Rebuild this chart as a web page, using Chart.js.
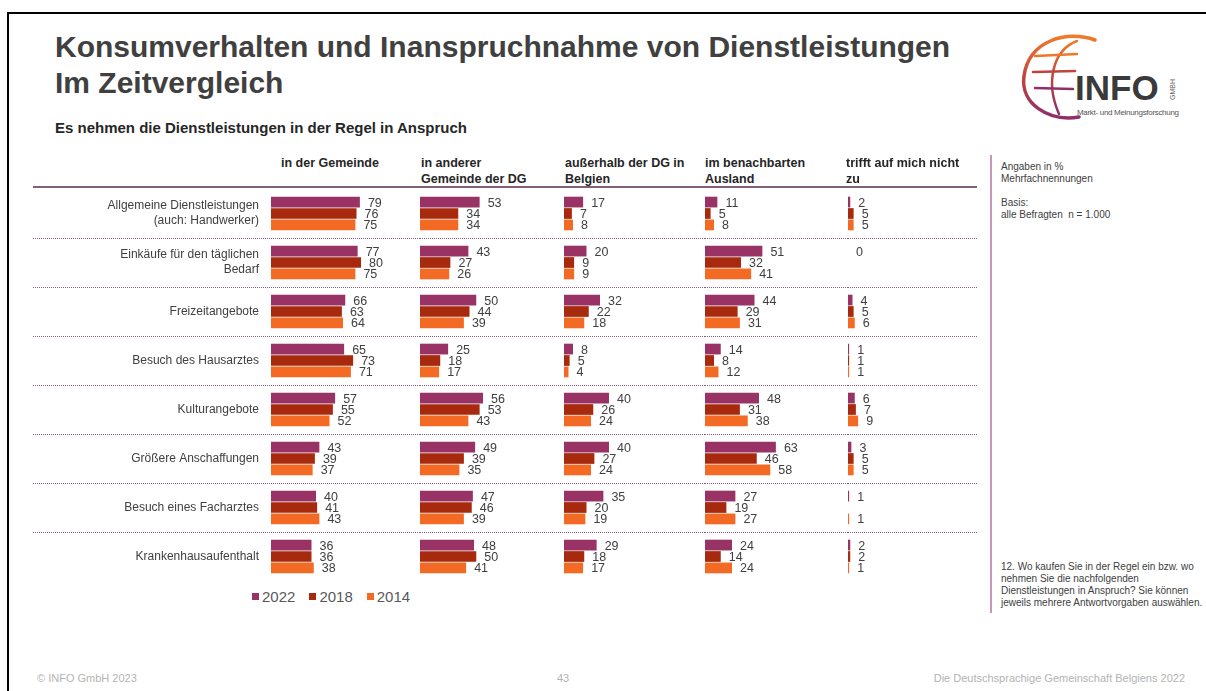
<!DOCTYPE html>
<html>
<head>
<meta charset="utf-8">
<script src="https://cdn.jsdelivr.net/npm/chart.js@4.4.1/dist/chart.umd.min.js"></script>
<style>
  body { margin: 0; background: #fff; font-family: "Liberation Sans", Arial, sans-serif; color: #404040; }
  #slide { position: relative; width: 1206px; height: 691px; overflow: hidden; background: #fff; }
  .frame { position: absolute; left: 7px; top: 12px; width: 1400px; height: 900px; border-top: 2px solid #000; border-left: 2px solid #000; }
  .abs { position: absolute; white-space: nowrap; }
  .title { left: 55px; top: 29px; font-size: 30px; line-height: 36px; font-weight: bold; color: #404040; }
  .subtitle { left: 55px; top: 120px; font-size: 15px; line-height: 16px; font-weight: bold; color: #262626; }
  .colhead { top: 155px; font-size: 12.5px; line-height: 16px; font-weight: bold; color: #262626; }
  .note { left: 1001px; font-size: 10px; line-height: 12px; color: #404040; }
  .vline { position: absolute; left: 990px; top: 155px; width: 2px; height: 458px; background: #c996b6; }
  .footer { top: 670px; font-size: 11px; line-height: 16px; color: #b3b3b3; }
  #legend { position: absolute; left: 252px; top: 588px; display: flex; align-items: center; font-size: 15px; color: #595959; }
  #legend span.sw { display: inline-block; width: 7px; height: 7px; margin-right: 3px; }
  #legend span.item { display: flex; align-items: center; margin-right: 14px; }
  canvas { position: absolute; }
</style>
</head>
<body>
<div id="slide">
  <div class="frame"></div>
  <div class="abs title">Konsumverhalten und Inanspruchnahme von Dienstleistungen<br>Im Zeitvergleich</div>
  <div class="abs subtitle">Es nehmen die Dienstleistungen in der Regel in Anspruch</div>

  <svg class="abs" style="left:1015px;top:32px" width="180" height="92" viewBox="0 0 180 92">
    <defs>
      <linearGradient id="globe" x1="0" y1="0" x2="0" y2="1">
        <stop offset="0" stop-color="#f07a2a"/>
        <stop offset="0.5" stop-color="#c0443e"/>
        <stop offset="1" stop-color="#8e2f6a"/>
      </linearGradient>
    </defs>
    <path d="M80 8 C52 -2 14 8 9 44 C5 72 34 90 64 85" fill="none" stroke="url(#globe)" stroke-width="3.5" stroke-linecap="round"/>
    <path d="M62 9 C38 18 30 50 44 82" fill="none" stroke="url(#globe)" stroke-width="2.5" stroke-linecap="round"/>
    <path d="M20 24 L62 22 M18 40 L60 39 M20 56 L58 57" fill="none" stroke="url(#globe)" stroke-width="2.5" stroke-linecap="round"/>
    <text x="60" y="68" font-family="Liberation Sans, Arial, sans-serif" font-weight="bold" font-size="35" fill="#3a3a3a">INFO</text>
    <text transform="translate(160,68) rotate(-90)" font-family="Liberation Sans, Arial, sans-serif" font-size="7" fill="#666">GMBH</text>
    <text x="62" y="83" font-family="Liberation Sans Narrow, Liberation Sans, Arial, sans-serif" font-size="8" fill="#555" textLength="102">Markt- und Meinungsforschung</text>
  </svg>

  <div class="vline"></div>
  <div class="abs note" style="top:161px">Angaben in %<br>Mehrfachnennungen<br><br>Basis:<br>alle Befragten&nbsp; n = 1.000</div>
  <div class="abs note" style="top:561px">12. Wo kaufen Sie in der Regel ein bzw. wo<br>nehmen Sie die nachfolgenden<br>Dienstleistungen in Anspruch? Sie können<br>jeweils mehrere Antwortvorgaben auswählen.</div>

  <div id="legend"></div>

  <div class="abs footer" style="left:37px">© INFO GmbH 2023</div>
  <div class="abs footer" style="left:557px">43</div>
  <div class="abs footer" style="right:21px">Die Deutschsprachige Gemeinschaft Belgiens 2022</div>
</div>

<script>
// categories and series
const categories = [
  ['Allgemeine Dienstleistungen', '(auch: Handwerker)'],
  ['Einkäufe für den täglichen', 'Bedarf'],
  'Freizeitangebote',
  'Besuch des Hausarztes',
  'Kulturangebote',
  'Größere Anschaffungen',
  'Besuch eines Facharztes',
  'Krankenhausaufenthalt'
];
const years = ['2022', '2018', '2014'];
const yearColors = ['#993366', '#a82a0e', '#f26a24'];
const columnTitles = [
  ['in der Gemeinde'],
  ['in anderer', 'Gemeinde der DG'],
  ['außerhalb der DG in', 'Belgien'],
  ['im benachbarten', 'Ausland'],
  ['trifft auf mich nicht', 'zu']
];

const gemeinde2022 = [79, 77, 66, 65, 57, 43, 40, 36];
const gemeinde2018 = [76, 80, 63, 73, 55, 39, 41, 36];
const gemeinde2014 = [75, 75, 64, 71, 52, 37, 43, 38];

const andereDG2022 = [53, 43, 50, 25, 56, 49, 47, 48];
const andereDG2018 = [34, 27, 44, 18, 53, 39, 46, 50];
const andereDG2014 = [34, 26, 39, 17, 43, 35, 39, 41];

const belgien2022 = [17, 20, 32, 8, 40, 40, 35, 29];
const belgien2018 = [7, 9, 22, 5, 26, 27, 20, 18];
const belgien2014 = [8, 9, 18, 4, 24, 24, 19, 17];

const ausland2022 = [11, 51, 44, 14, 48, 63, 27, 24];
const ausland2018 = [5, 32, 29, 8, 31, 46, 19, 14];
const ausland2014 = [8, 41, 31, 12, 38, 58, 27, 24];

const trifftNicht2022 = [2, 0, 4, 1, 6, 3, 1, 2];
const trifftNicht2018 = [5, null, 5, 1, 7, 5, null, 2];
const trifftNicht2014 = [5, null, 6, 1, 9, 5, 1, 1];

const panels = [
  [gemeinde2022, gemeinde2018, gemeinde2014],
  [andereDG2022, andereDG2018, andereDG2014],
  [belgien2022, belgien2018, belgien2014],
  [ausland2022, ausland2018, ausland2014],
  [trifftNicht2022, trifftNicht2018, trifftNicht2014]
];

// layout of the panels (px)
const labelLeft = 33;
const panelEdges = [271, 420, 564, 705, 848, 977];
const headLeft = [281, 421, 565, 705, 846];
const pxPerUnit = 1.125;
const chartTop = 182, chartBottom = 581, padTop = 7;

const slide = document.getElementById('slide');

// legend
const legend = document.getElementById('legend');
years.forEach((y, i) => {
  legend.insertAdjacentHTML('beforeend',
    `<span class="item"><span class="sw" style="background:${yearColors[i]}"></span>${y}</span>`);
});

// separator lines between categories + header line
const separators = {
  id: 'separators',
  beforeDatasetsDraw(chart) {
    const { ctx } = chart;
    const y = chart.scales.y;
    ctx.save();
    ctx.strokeStyle = '#5a2a4e';
    ctx.lineWidth = 1.5;
    ctx.beginPath();
    ctx.moveTo(0, y.top - 2);
    ctx.lineTo(chart.width, y.top - 2);
    ctx.stroke();
    ctx.setLineDash([1, 1]);
    ctx.lineWidth = 1;
    ctx.strokeStyle = '#8a5a80';
    for (let i = 0; i < categories.length - 1; i++) {
      const py = Math.round((y.getPixelForValue(i) + y.getPixelForValue(i + 1)) / 2) + 0.5;
      ctx.beginPath();
      ctx.moveTo(0, py);
      ctx.lineTo(chart.width, py);
      ctx.stroke();
    }
    ctx.restore();
  }
};

// numbers right of the bars
const valueLabels = {
  id: 'valueLabels',
  afterDatasetsDraw(chart) {
    const { ctx } = chart;
    ctx.save();
    ctx.font = '12.5px "Liberation Sans", Arial, sans-serif';
    ctx.fillStyle = '#404040';
    ctx.textBaseline = 'middle';
    chart.data.datasets.forEach((ds, di) => {
      chart.getDatasetMeta(di).data.forEach((bar, i) => {
        const v = ds.data[i];
        if (v === null || v === undefined) return;
        ctx.fillText(String(v), bar.x + 8, bar.y + 1);
      });
    });
    ctx.restore();
  }
};

panels.forEach((series, p) => {
  const left = p === 0 ? labelLeft : panelEdges[p];
  const areaWidth = panelEdges[p + 1] - panelEdges[p];
  const width = panelEdges[p + 1] - left;

  const head = document.createElement('div');
  head.className = 'abs colhead';
  head.style.left = headLeft[p] + 'px';
  head.innerHTML = columnTitles[p].join('<br>');
  slide.appendChild(head);

  const canvas = document.createElement('canvas');
  canvas.width = width;
  canvas.height = chartBottom - chartTop;
  canvas.style.left = left + 'px';
  canvas.style.top = chartTop + 'px';
  slide.appendChild(canvas);

  new Chart(canvas, {
    type: 'bar',
    data: {
      labels: categories,
      datasets: series.map((data, i) => ({
        label: years[i],
        data: data,
        backgroundColor: yearColors[i],
        borderWidth: 0,
        categoryPercentage: 0.7,
        barPercentage: 0.94
      }))
    },
    options: {
      indexAxis: 'y',
      responsive: false,
      animation: false,
      devicePixelRatio: 1,
      layout: { padding: { top: padTop, left: 0, right: 0, bottom: 0 } },
      plugins: { legend: { display: false }, tooltip: { enabled: false } },
      scales: {
        x: { display: false, min: 0, max: areaWidth / pxPerUnit },
        y: {
          display: p === 0,
          grid: { display: false, drawTicks: false },
          border: { display: false },
          ticks: {
            color: '#404040',
            padding: 12,
            font: { family: '"Liberation Sans", Arial, sans-serif', size: 12, lineHeight: 1.25 }
          },
          afterFit(scale) {
            if (p !== 0) return;
            scale.width = panelEdges[0] - labelLeft;
            scale.paddingTop = 0;
            scale.paddingBottom = 0;
          }
        }
      }
    },
    plugins: [separators, valueLabels]
  });
});
</script>
</body>
</html>
